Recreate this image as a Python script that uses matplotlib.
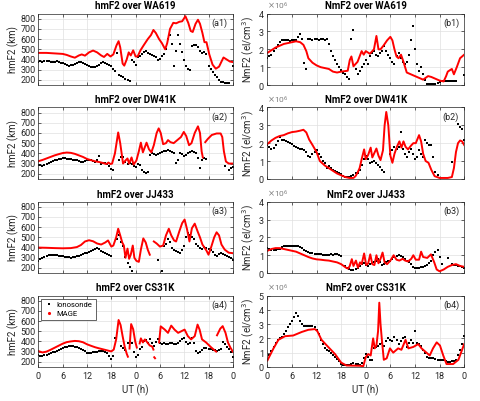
import numpy as np
import matplotlib
matplotlib.use("Agg")
import matplotlib.pyplot as plt
from matplotlib.lines import Line2D
from matplotlib.ticker import ScalarFormatter

nan = np.nan
plt.rcParams["font.family"] = ["Roboto", "DejaVu Sans"]

stations = ["WA619", "DW41K", "JJ433", "CS31K"]
xtick_pos = [0, 6, 12, 18, 24, 30, 36, 42, 48]
xtick_lab = ["0", "6", "12", "18", "0", "6", "12", "18", "0"]

# ionosonde sampled every 0.5 h over 48 h
hours = np.arange(0, 48.5, 0.5)

a1_iono = [380, 385, 380, 385, 390, 385, 380, 375, 380, 385, 375, 370,
           365, 355, 345, 340, 350, 345, 360, 370, 380, 375, 365, 355,
           345, 340, 330, 325, 330, 335, 350, 365, 375, 370, 360, 350,
           340, 310, 290, 465, 250, 240, 225, 210, 200, 185, 400, 380,
           350, 420, 430, 450, 470, 480, 465, 450, 440, 430, 420, 400,
           410, 430, 450, 500, 600, 645, 550, 340, 480, 640, 550, 470,
           400, 335, 310, 300, 530, 545, 540, 520, 480, 465, 470, 450,
           340, 310, 280, 250, 230, 200, 180, 175, 170, 165, 165, nan,
           335]
a2_iono = [290, 285, 280, 290, 300, 310, 320, 325, 330, 335, 340, 345,
           350, 350, 345, 345, 340, 335, 335, 330, 325, 320, 320, 325,
           330, 330, 330, 325, 320, 330, 370, 300, 310, 305, 300, 280,
           250, 235, nan, nan, 330, 360, 360, 320, 300, 310, 300, 280,
           270, 300, 290, 240, 215, 210, 220, 380, 400, 390, 380, 390,
           400, 410, 420, 425, 430, 420, 410, 400, 310, 330, 400, 390,
           370, 380, 400, 410, 420, 410, 400, 350, 260, 330, 350, 340,
           nan, nan, nan, nan, nan, nan, nan, nan, 280, nan, 240, 260,
           270]
a3_iono = [270, 290, 300, 310, 320, 325, 330, 330, 330, 325, 320, 320,
           315, 310, 310, 305, 300, 305, 310, 315, 320, 330, 340, 345,
           350, 355, 365, 375, 390, 400, 385, 370, 360, 350, 340, 330,
           320, nan, nan, 480, 520, 450, 420, 310, 250, 210, 175, nan,
           nan, nan, nan, nan, nan, nan, nan, nan, nan, nan, nan, 280,
           nan, 175, 420, 440, 480, 450, 400, 380, 370, 360, 350, 380,
           420, 500, 540, 520, 500, 480, 440, 420, 400, 390, 410, 400,
           390, 380, 360, 330, 320, 340, 345, 340, 330, 320, 310, 300,
           280]
a4_iono = [265, 260, 260, 265, 270, 280, 290, 295, 300, 310, 320, 330,
           340, 345, 350, 355, 360, 355, 350, 345, 340, 330, 320, 305,
           290, 290, 290, 295, 300, 300, 305, 310, 305, 300, 290, 260,
           230, 260, 430, nan, nan, 360, 340, 320, 380, 400, 380, 300,
           250, 270, 330, 350, 400, 410, 380, 420, 380, 360, 390, 420,
           380, 370, 380, 375, 370, 380, 385, 375, 370, 380, 400, 420,
           430, 390, 370, 380, 430, 380, 310, 290, 300, 320, 340, 335,
           330, 325, 320, 315, 310, 320, 330, 390, 370, 350, 330, 300,
           250]

# NmF2 in units of 1e6 el/cm3
b1_iono = [1.5, 1.6, 1.7, 1.9, 2.1, 2.25, 2.4, 2.5, 2.55, 2.5, 2.5, 2.45,
           2.5, 2.5, 2.55, 2.7, 2.85, 2.6, 1.25, 0.9, 2.6, 2.6, 2.55, 2.6,
           2.6, 2.55, 2.6, 2.6, 2.55, 2.6, 2.3, 1.9, 1.6, 1.4, 1.2, 1.0,
           0.85, 0.7, 0.6, 0.45, 0.35, 2.6, 3.1, 0.9, 0.6, 0.8, 1.0, 1.2,
           1.4, 1.2, 1.6, 1.8, 1.9, 1.7, 1.6, 1.8, 1.9, 2.2, 1.9, 1.7,
           1.5, 1.3, 1.2, 1.6, 1.8, 1.5, 1.3, 1.2, 1.3, 1.7, 2.5, 3.3,
           2.0, 1.2, 0.8, 1.0, 0.6, 0.3, 0.05, 0.05, 0.05, 0.05, 0.08, 0.1,
           0.15, 0.2, 0.22, 0.25, 0.25, 0.25, 0.25, 0.25, 0.25, nan, nan, nan,
           0.55]
b2_iono = [1.9, 1.8, 1.7, 1.75, 1.9, 2.1, 2.35, 2.2, 2.15, 2.1, 2.05, 2.0,
           1.95, 1.85, 1.8, 1.75, 1.7, 1.65, 1.6, 1.5, 1.3, 1.2, 1.4, 1.5,
           1.6, 1.4, 1.2, 1.0, 0.9, 0.6, 0.7, 0.6, 0.5, 0.45, 0.4, 0.3,
           0.25, 0.15, 0.1, 0.1, 0.1, 0.15, 0.2, 0.3, 0.35, 0.5, 0.8, 1.1,
           1.3, 1.1, 0.9, 0.95, 1.0, 0.9, 0.8, 0.65, 0.5, 0.4, nan, nan,
           1.4, 1.6, 1.8, 1.7, 1.8, 2.6, 1.7, 1.4, 1.2, 1.5, 1.7, 1.4,
           1.1, 1.2, 1.6, 1.4, 1.2, 2.2, 2.0, 1.9, 1.9, 1.2, 0.4, 0.2,
           nan, nan, nan, nan, nan, nan, 0.95, nan, nan, 3.1, 2.9, 2.8,
           2.2]
b3_iono = [1.4, 1.35, 1.3, 1.3, 1.3, 1.35, 1.35, 1.45, 1.5, 1.5, 1.5, 1.5,
           1.5, 1.5, 1.5, 1.5, 1.45, 1.4, 1.3, 1.25, 1.2, 1.15, 1.1, 1.05,
           1.05, 1.05, 1.05, 1.0, 1.0, 1.0, 1.0, 1.05, 1.0, 1.05, 1.05, 1.0,
           0.95, nan, 0.4, 0.3, 0.25, 0.2, 0.2, 0.25, 0.3, 0.4, 0.5, 0.55,
           0.45, 0.4, 0.5, 0.55, 0.6, 0.7, 0.8, 0.6, 0.45, 0.5, 0.6, 0.65,
           0.7, 0.8, 0.9, 0.95, 1.0, 0.95, 0.9, 0.8, 0.7, 0.6, 0.5, 0.35,
           0.3, 0.3, 0.3, 0.35, 0.35, 0.4, 0.45, 0.55, 0.7, 1.0, 1.2, 1.3,
           0.9, 0.5, nan, nan, 0.85, nan, 0.5, 0.45, 0.45, 0.4, 0.4, 0.35,
           0.3]
b4_iono = [0.5, 0.8, 1.1, 1.4, 1.7, 1.9, 2.0, 2.1, 2.3, 2.5, 2.8, 3.0,
           3.2, 3.5, 3.8, 3.6, 3.2, 3.0, 2.9, 2.9, 2.9, 2.9, 2.85, 2.8,
           2.6, 2.3, 1.9, 1.6, 1.3, 1.2, 1.1, 0.95, 0.8, 0.7, 0.55, 0.4,
           0.2, 0.15, 0.1, 0.1, 0.15, 0.2, 0.25, 0.2, 0.2, 0.15, 0.3, 0.6,
           0.9, 0.7, 0.5, 0.5, 1.3, 1.4, 1.5, 1.6, 1.7, 1.5, 1.8, 2.0,
           1.9, 1.8, 2.1, 1.9, 1.6, 1.8, 2.0, 2.1, 1.4, 1.7, 1.9, 1.7,
           2.5, 1.7, 1.6, 1.5, 1.2, 1.0, 0.7, 0.6, 0.6, 0.6, 0.55, 0.5,
           0.5, 0.45, 0.45, 0.4, 0.35, 0.35, 0.4, 0.4, 0.5, 0.8, 1.2, 1.6,
           2.2]

# MAGE model curves (hour, value), nan = gap
a1_mage_t = [0, 2, 4, 6, 7, 8, 9, 10, 10.7, 11.5, 12.5, 13.5, 14.5, 15.5, 16.2, 17, 17.8, 18.5,
             19.3, 19.8, 20.2, 20.8, 21.2, 21.8, 22.3, 22.8, 23.4, 24, 24.5, 25.2, 26, 27, 27.8,
             28.4, 29, 29.8, 30.5, 31.3, 31.8, 32.5, 33.3, 34, 34.8, 35.5, 36.3, 37, 37.6, 38.1,
             38.8, 39.4, 39.9, 40.5, 41, 41.5, 42.2, 43, 43.8, 44.6, 45.7, 46.5, 47.3, 48]
a1_mage = [465, 465, 460, 455, 445, 430, 418, 440, 450, 438, 470, 488, 470, 440, 425, 455, 430, 450,
           540, 580, 520, 360, 340, 400, 470, 440, 490, 430, 430, 490, 540, 600, 640,
           690, 660, 600, 560, 500, 560, 700, 760, 755, 770, 775, 825, 760, 680, 670,
           750, 790, 750, 660, 570, 570, 450, 350, 310, 330, 420, 400, 380, 375]
a2_mage_t = [0, 1, 2, 3, 4, 5, 6, 7, 8, 9, 10, 11, 12, 13, 14, 15, 16, 16.8, 17.3, 17.8, 18.2,
             18.9, 19.7, 20.2, 20.9, 21.5, 22, 22.4, 23, 23.5, 24.2, 24.8, 25.3, 25.8, 26.7,
             27.3, 27.9, 28.5, 29.2, 29.7, 30.2, 30.8, 31.5, 32, 32.6, 33.4, 34.3, 35.2, 35.9,
             36.5, 37.2, 37.8, 38.6, 39.4, 39.9, 40.3, 40.6, 40.9, 41.2, 41.8, 42.8, 44, 45,
             45.4, 45.8, 46.3, 47, 48]
a2_mage = [323, 335, 350, 365, 380, 392, 403, 408, 405, 395, 380, 365, 345, 333, 322, 315, 305, 295,
           310, 295, 300, 400, 605, 500, 300, 330, 350, 300, 360, 290, 330, 420, 505, 410, 505,
           440, 410, 480, 600, 645, 600, 490, 500, 530, 510, 500, 530, 560, 610,
           570, 480, 500, 600, 665, 600, 420, 360, nan, 510, 540, 580, 595, 595,
           560, 420, 320, 300, 300]
a3_mage_t = [0, 2, 4, 6, 8, 9.5, 10.5, 11.5, 12.5, 13.5, 14.5, 15.5, 16.5, 17.2, 17.6, 18, 18.5,
             19.2, 19.7, 20.2, 20.7, 21.1, 21.5, 22, 22.4, 22.8, 23.3, 23.7, 24.2, 24.8, 25.3,
             25.9, 26.5, 27, 27.5, 28, 28.5, 29.2, 30, 30.8, 31.5, 32.2, 32.8, 33.5, 34, 34.8,
             35.5, 36.1, 36.7, 37.3, 37.9, 38.6, 39.3, 39.9, 40.5, 41, 41.5, 42, 42.7, 43.4,
             44, 44.6, 45.2, 46, 47, 48]
a3_mage = [400, 398, 395, 393, 395, 405, 425, 460, 472, 462, 440, 430, 450, 470, 440, 410, 420,
           500, 585, 520, 450, 420, 300, 390, 290, 330, 420, 300, 270, 260, 380,
           490, 450, 380, 330, nan, 460, 440, 410, 420, 520, 585, 520, 470, 460, 560,
           640, 675, 580, 460, 590, 635, 560, 500, 430, 400, 370, 330, 410, 500,
           550, 520, 430, 380, 350, 345]
a4_mage_t = [0, 1, 2, 3, 4, 5, 6, 7, 8, 9, 10, 11, 12, 13, 14, 15, 16, 17, 18, 18.6, 19.2, 19.8,
             20.3, 20.8, 21.3, 21.8, 22.1, 22.3, 22.5, 22.9, 23.4, 23.9, 24.3, 24.6, 25, 25.3,
             25.8, 26.3, 26.9, 27.5, 28.1, 28.4, 28.5, 28.6, 28.8, 29.3, 29.8, 30.2, 31.2, 32,
             32.8, 33.6, 34.5, 35.3, 36.1, 36.9, 37.7, 38.6, 39.3, 39.8, 40.4, 41.4, 42.7, 43.9,
             44, 44.1, 44.9, 45.5, 46.2, 46.8, 47.4, 48]
a4_mage = [305, 292, 300, 318, 338, 358, 378, 393, 400, 405, 402, 392, 372, 357, 343, 332, 322, 312,
           302, 320, 420, 610, 560, 450, 350, 280, 250, nan, 330, 570, 520, 400, 340, nan, 380,
           430, 390, 420, 390, 360, 350, 320, nan, 245, 235, nan, 390, 548, 516, 484,
           555, 516, 484, 500, 516, 452, 420, 452, 565, 516, 420, 390, 340, 300,
           nan, 460, 525, 550, 484, 390, 340, 300]

b1_mage_t = [0, 1, 2, 3, 4, 5, 6, 7, 8, 8.8, 9.5, 10, 11, 12, 13, 14, 15, 16, 17, 18, 19, 19.6,
             20.1, 20.5, 21, 22, 23, 23.5, 24, 25, 26, 26.6, 27.1, 27.6, 28.3, 29.2, 30, 30.5,
             31, 31.5, 32, 32.6, 33.2, 34, 35, 36, 37, 38, 38.6, 39.2, 40, 41, 42, 43, 43.6,
             44, 45, 45.5, 46.2, 47, 48]
b1_mage = [1.8, 1.95, 2.1, 2.2, 2.3, 2.35, 2.4, 2.45, 2.4, 2.25, 1.9, 1.5, 1.25, 1.1, 1.0, 0.95,
           0.9, 0.75, 0.7, 0.75, 0.78, 0.8, 1.4, 1.6, 1.05, 1.3, 1.9, 1.7, 1.9, 1.75, 2.0, 2.75,
           2.0, 2.0, 2.2, 2.5, 2.7, 2.5, 2.0, 1.6, 1.5, 1.7, 1.3, 0.7, 0.6, 0.5, 0.4, 0.3, 0.4,
           0.5, 0.45, 0.35, 0.25, 0.2, 0.5, 0.75, 0.9, 0.6, 1.0, 1.5, 1.7]
b2_mage_t = [0, 1, 2, 3, 4, 5, 6, 7, 8, 8.8, 9.5, 10.2, 11, 12, 12.8, 14, 15, 16, 17, 18, 19, 20,
             21, 21.5, 22, 22.5, 23, 23.6, 24, 24.6, 25.2, 25.6, 26.1, 26.6, 27.1, 27.6, 28.2,
             28.6, 29, 29.5, 30, 30.5, 31, 31.6, 32.2, 32.7, 33.2, 33.7, 34.3, 35, 35.6, 36.2,
             37, 37.5, 38, 38.6, 39.3, 40, 40.8, 42, 44, 45, 45.5, 46, 46.5, 47, 47.5, 48]
b2_mage = [1.95, 2.15, 2.3, 2.4, 2.45, 2.55, 2.62, 2.65, 2.7, 2.75, 2.6, 2.2, 1.9, 1.5, 1.0, 0.75,
           0.6, 0.45, 0.3, 0.2, 0.1, 0.05, 0.05, 0.15, 0.35, 0.6, 1.1, 1.65, 1.1, 1.35, 1.75,
           1.2, 1.45, 1.7, 1.3, 1.05, 1.6, 3.0, 3.75, 3.0, 1.3, 0.9, 1.4, 1.8, 2.1, 1.75, 2.1,
           1.8, 1.65, 1.85, 2.0, 2.0, 2.45, 2.1, 1.4, 1.0, 0.9, 0.5, 0.15, 0.05, 0.05, 0.1,
           0.6, 1.5, 2.0, 2.15, 2.1, 1.9]
b3_mage_t = [0, 1, 2, 3, 4, 5, 6, 7, 8, 9, 10, 11, 12, 13, 14, 15, 16, 17, 18, 18.6, 19.2, 19.7,
             20.1, 20.6, 21, 21.6, 22.1, 22.6, 23, 23.6, 24.1, 24.6, 25.1, 25.6, 26.1, 26.6,
             27.1, 27.6, 28.1, 28.6, 29.2, 30, 30.8, 31.5, 32.2, 33, 33.6, 34.3, 35.1, 35.6,
             36.2, 37, 37.5, 38, 39, 39.9, 40.7, 41.3, 42, 43, 44, 45, 46, 47, 48]
b3_mage = [1.25, 1.35, 1.4, 1.4, 1.35, 1.3, 1.25, 1.2, 1.1, 1.0, 0.9, 0.82, 0.77, 0.75, 0.72, 0.7,
           0.65, 0.6, 0.5, 0.4, 0.3, 0.25, 0.4, 0.78, 0.4, 0.7, 0.3, 0.6, 0.5, 1.1, 0.45, 0.55,
           1.05, 0.5, 0.45, 1.0, 0.55, 0.8, 1.15, 0.6, 0.5, 0.7, 1.0, 0.75, 0.7, 0.8, 0.7, 0.65,
           0.8, 1.0, 0.75, 0.75, 1.2, 0.9, 0.85, 1.05, 0.6, 0.2, 0.1, 0.2, 0.35, 0.45, 0.5, 0.4,
           0.35]
b4_mage_t = [0, 1.5, 2.7, 4.3, 6.3, 8.4, 10, 11.6, 12.2, 13.2, 14.5, 16.5, 18, 19.3, 22.6, 23.4,
             24, 24.6, 25.2, 25.8, 26.2, 26.6, 27, 27.3, 27.6, 27.9, 28.4, 29.1, 29.9, 30.7,
             31.9, 32.7, 33.7, 34.4, 35.6, 36.8, 37.6, 38.8, 39.6, 40.4, 41.3, 42.1, 42.9, 43.7,
             45.3, 46.6, 48]
b4_mage = [0.45, 1.3, 1.9, 2.15, 2.2, 2.45, 2.6, 2.65, 2.5, 1.9, 1.5, 0.9, 0.3, 0.1, 0.08, 0.05,
           0.7, 0.9, 0.8, 2.0, 1.3, 1.5, 2.5, 4.5, 3.0, 2.0, 0.5, 0.6, 1.3, 1.0,
           1.3, 1.2, 1.9, 1.3, 1.4, 1.6, 1.3, 1.0, 0.8, 1.3, 1.72, 1.5, 0.8, 0.2,
           0.2, 0.5, 1.6]

hm_iono = [a1_iono, a2_iono, a3_iono, a4_iono]
hm_mage = [(a1_mage_t, a1_mage), (a2_mage_t, a2_mage), (a3_mage_t, a3_mage), (a4_mage_t, a4_mage)]
nm_iono = [b1_iono, b2_iono, b3_iono, b4_iono]
nm_mage = [(b1_mage_t, b1_mage), (b2_mage_t, b2_mage), (b3_mage_t, b3_mage), (b4_mage_t, b4_mage)]
nm_top = [4, 4, 4, 5]

fig = plt.figure(figsize=(4.8, 4.01), dpi=100)
row_bottom = [0.788, 0.554, 0.319, 0.085]
row_h = 0.178
txt = "#262626"


def style(ax, bottom):
    ax.set_xlim(0, 48)
    ax.set_xticks(xtick_pos)
    ax.set_xticklabels(xtick_lab if bottom else [])
    ax.grid(True, color="#e0e0e0", lw=0.5)
    ax.set_axisbelow(True)
    ax.tick_params(direction="in", length=2, width=0.5, labelsize=6.5, colors=txt, pad=2,
                   top=True, right=True)
    ax.tick_params(axis="x", pad=4)
    for s in ax.spines.values():
        s.set_linewidth(0.5)
        s.set_color(txt)


for i in range(4):
    bottom = i == 3
    # hmF2
    ax = fig.add_axes([0.080, row_bottom[i], 0.405, row_h])
    style(ax, bottom)
    ax.plot(hours, hm_iono[i], ls="none", marker="s", ms=1.9, color="k", mew=0)
    t, v = hm_mage[i]
    ax.plot(t, v, color="#ff0000", lw=1.4)
    ax.set_ylim(150, 850)
    ax.set_yticks(range(200, 801, 100))
    ax.set_ylabel("hmF2 (km)", fontsize=7, color=txt, labelpad=1)
    ax.set_title(f"hmF2 over {stations[i]}", fontsize=7, fontweight="bold", pad=3)
    ax.text(0.975, 0.93, f"(a{i + 1})", transform=ax.transAxes, ha="right", va="top", fontsize=6.5, color=txt)
    if bottom:
        ax.set_xlabel("UT (h)", fontsize=7, color=txt, labelpad=2)
        handles = [Line2D([], [], ls="none", marker="s", ms=2, color="k", mew=0),
                   Line2D([], [], ls="none", marker=".", ms=2.5, color="#ff0000")]
        leg = ax.legend(handles, ["Ionosonde", "MAGE"], loc="upper left", fontsize=5.5,
                        fancybox=False, edgecolor=txt, framealpha=1, borderaxespad=0.4,
                        handlelength=1.2, handletextpad=0.4, borderpad=0.4, labelspacing=0.3)
        leg.get_frame().set_linewidth(0.5)

    # NmF2
    bx = fig.add_axes([0.557, row_bottom[i], 0.410, row_h])
    style(bx, bottom)
    bx.plot(hours, np.array(nm_iono[i]) * 1e6, ls="none", marker="s", ms=1.9, color="k", mew=0)
    t, v = nm_mage[i]
    bx.plot(t, np.array(v) * 1e6, color="#ff0000", lw=1.4)
    bx.set_ylim(0, nm_top[i] * 1e6)
    bx.set_yticks(np.arange(0, nm_top[i] + 1) * 1e6)
    fmt = ScalarFormatter(useMathText=True)
    fmt.set_powerlimits((6, 6))
    bx.yaxis.set_major_formatter(fmt)
    bx.yaxis.get_offset_text().set_fontsize(6)
    bx.yaxis.get_offset_text().set_color("#808080")
    bx.set_ylabel("NmF2 (el/cm$^3$)", fontsize=7, color=txt, labelpad=1)
    bx.set_title(f"NmF2 over {stations[i]}", fontsize=7, fontweight="bold", pad=3)
    bx.text(0.975, 0.93, f"(b{i + 1})", transform=bx.transAxes, ha="right", va="top", fontsize=6.5, color=txt)
    if bottom:
        bx.set_xlabel("UT (h)", fontsize=7, color=txt, labelpad=2)

fig.savefig("out.png", dpi=100)
